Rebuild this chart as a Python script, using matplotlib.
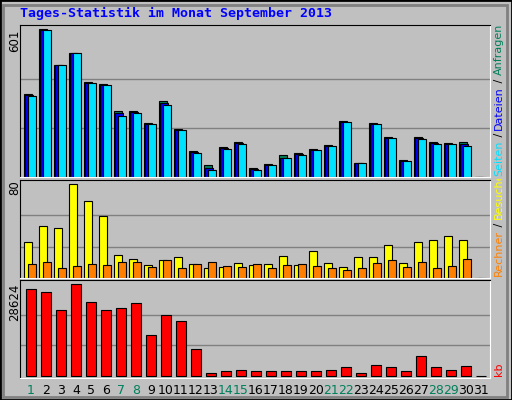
import matplotlib
matplotlib.use("Agg")
import matplotlib.pyplot as plt
from matplotlib.patches import Rectangle
from matplotlib.transforms import Bbox

days = list(range(1, 32))
hits = [336, 601, 454, 505, 386, 378, 267, 267, 218, 309, 194, 105, 48, 121, 141,
        35, 52, 88, 97, 113, 129, 227, 56, 219, 162, 68, 162, 141, 137, 141, 0]
files = [332, 599, 454, 505, 383, 376, 260, 265, 216, 300, 192, 100, 35, 117, 138,
         31, 50, 76, 92, 111, 127, 225, 56, 217, 160, 66, 158, 137, 135, 133, 0]
pages = [328, 597, 454, 505, 381, 374, 248, 260, 214, 292, 190, 97, 27, 113, 136,
         27, 48, 76, 88, 109, 125, 223, 56, 215, 158, 64, 154, 133, 133, 125, 0]
visits = [30.6, 44.5, 42.7, 80, 65.3, 53.1, 19.4, 15.9, 10.7, 15, 17.6, 11.6, 8.1, 9, 12.4,
          10.7, 11.6, 18.5, 10.7, 22.8, 12.4, 9, 17.6, 17.6, 28, 12.4, 30.6, 32.4, 35.8, 32.4, 0]
sites = [11.6, 13.3, 8.1, 9.8, 11.6, 10.7, 13.3, 13.3, 9, 15, 8.1, 11.6, 13.3, 9.8, 9,
         11.6, 8.1, 10.7, 11.6, 9.8, 8.1, 6.4, 8.1, 12.4, 15, 9, 13.3, 8.1, 9.8, 15.9, 0]
kbytes = [26960, 26120, 20480, 28624, 22990, 20480, 21110, 22680, 12640, 18910, 17030, 8250,
          1045, 1670, 1990, 1670, 1670, 1670, 1670, 1670, 1990, 2930, 1045, 3550, 2930, 1670,
          6370, 2930, 1990, 3240, 0]
weekend = {1, 7, 8, 14, 15, 21, 22, 28, 29}

BG = "#C0C0C0"
GREEN = "#00805C"
BLUE = "#0000FF"
CYAN = "#00E0FF"
YELLOW = "#FFFF00"
ORANGE = "#FF8000"
RED = "#FF0000"

W, H = 512, 400
fig = plt.figure(figsize=(W / 100, H / 100), dpi=100, facecolor=BG)

# outer bevel border
fig.patches.append(Rectangle((0, 0), 1, 1, transform=fig.transFigure, fill=False,
                             edgecolor="black", lw=2))
fig.patches.append(Rectangle((3 / W, 3 / H), 1 - 8 / W, 1 - 8 / H, transform=fig.transFigure,
                             fill=False, edgecolor="#808080", lw=2))


def panel(top, bottom, ymin, ymax):
    ax = fig.add_axes([20 / W, 1 - bottom / H, 470 / W, (bottom - top) / H])
    ax.set_facecolor(BG)
    ax.set_xlim(0.27, 31.6)
    ax.set_ylim(ymin, ymax)
    ax.set_xticks([])
    ax.set_yticks([])
    for s in ["left", "top"]:
        ax.spines[s].set_color("black")
    for s in ["right", "bottom"]:
        ax.spines[s].set_color("white")
    return ax


x = [d for d in days]
ec = dict(edgecolor="black", linewidth=0.8)

ax1 = panel(25, 177, 0, 618.5)
for f in (1 / 3, 2 / 3):
    ax1.axhline(601 * f, color="#808080", lw=1, zorder=0)
ax1.bar([d - 0.2 for d in x], hits, width=0.5, color=GREEN, **ec)
ax1.bar([d - 0.13 for d in x], files, width=0.5, color=BLUE, **ec)
ax1.bar([d + 0.07 for d in x], pages, width=0.5, color=CYAN, **ec)

ax2 = panel(180, 278, 0, 83.5)
for f in (1 / 3, 2 / 3):
    ax2.axhline(80 * f, color="#808080", lw=1, zorder=0)
ax2.bar([d - 0.2 for d in x], visits, width=0.55, color=YELLOW, **ec)
ax2.bar([d + 0.07 for d in x], sites, width=0.5, color=ORANGE, **ec)

ax3 = panel(280, 378, -626, 29876)
for f in (1 / 3, 2 / 3):
    ax3.axhline(28624 * f, color="#808080", lw=1, zorder=0)
ax3.bar(x, kbytes, width=0.68, color=RED, **ec)

for d in days:
    ax3.text(d, -0.13, str(d), transform=ax3.get_xaxis_transform(), ha="center", va="center",
             fontsize=9, family="DejaVu Sans", color=GREEN if d in weekend else "black")

fig.text(20 / W, 1 - 13 / H, "Tages-Statistik im Monat September 2013", color=BLUE,
         family="DejaVu Sans Mono", fontweight="bold", fontsize=9.5, va="center")

for txt, ypx in [("601", 30), ("80", 180), ("28624", 284)]:
    fig.text(15 / W, 1 - ypx / H, txt, rotation=90, ha="center", va="top", fontsize=8.5)


def right_label(parts, base_px, top_px):
    fig.canvas.draw()
    r = fig.canvas.get_renderer()
    clip = Bbox.from_extents(490, H - base_px - 2, W, H - top_px)
    y = 1 - base_px / H
    for txt, col in parts:
        t = fig.text(499 / W, y, txt, color=col, rotation=90, ha="center", va="bottom",
                     fontsize=8, family="DejaVu Sans")
        t.set_clip_box(clip)
        t.set_clip_on(True)
        bb = t.get_window_extent(r)
        y += bb.height / H


right_label([("Seiten", CYAN), (" / ", "black"), ("Dateien", BLUE), (" / ", "black"),
             ("Anfragen", GREEN)], 176, 22)
right_label([("Rechner", ORANGE), (" / ", "black"), ("Besuche", YELLOW), (" / ", "black"),
             ("Seiten", CYAN)], 276, 179)
right_label([("kb", RED)], 376, 280)

fig.savefig("out.png", dpi=100, facecolor=BG)
